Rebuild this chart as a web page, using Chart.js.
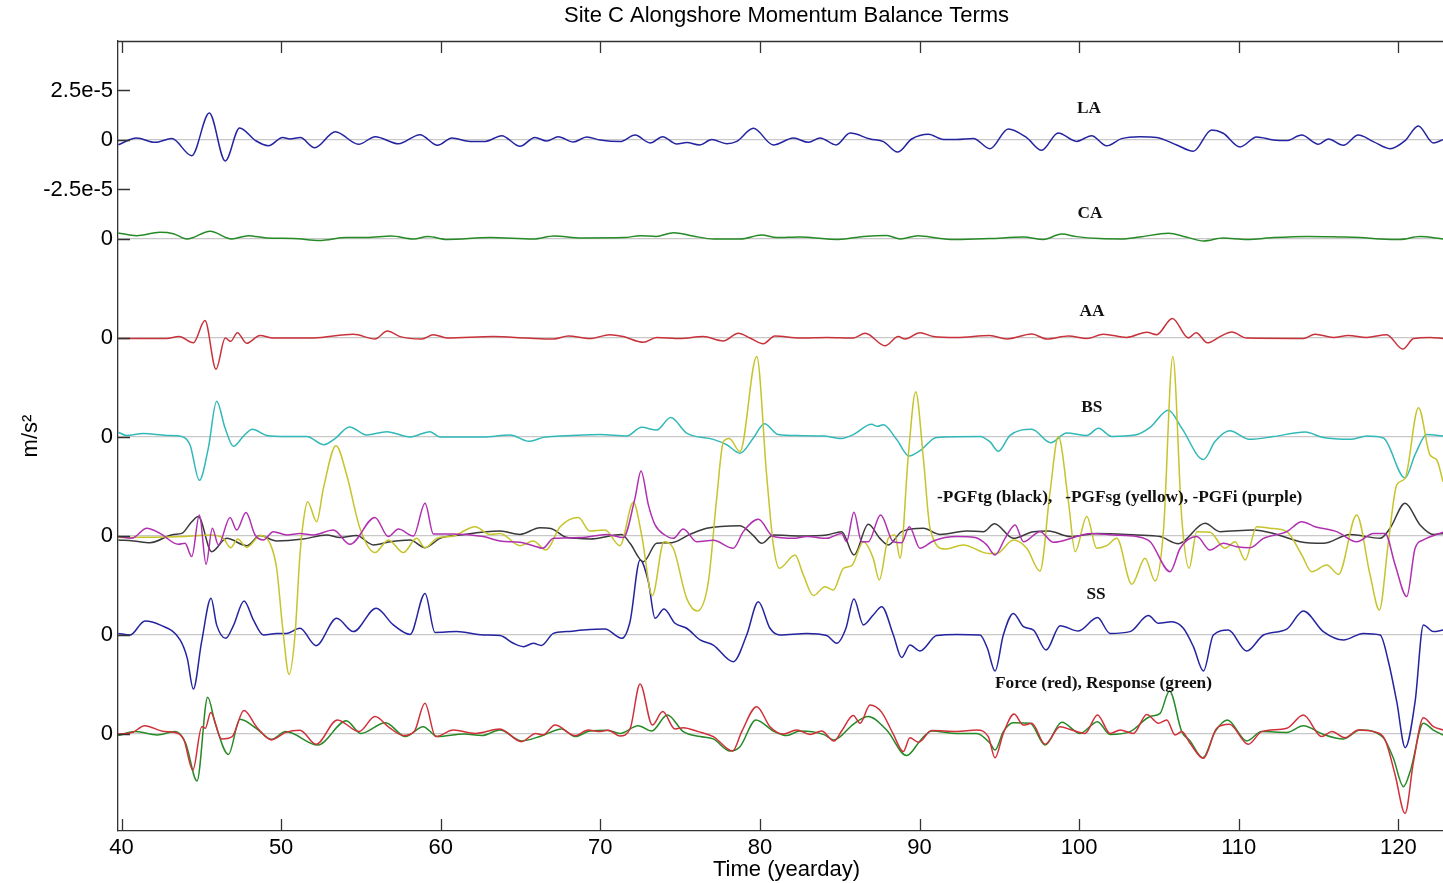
<!DOCTYPE html>
<html>
<head>
<meta charset="utf-8">
<title>Site C Alongshore Momentum Balance Terms</title>
<script src="https://cdn.jsdelivr.net/npm/chart.js@4.4.1/dist/chart.umd.min.js"></script>
<style>
    html, body { margin: 0; padding: 0; background: #fff; }
    #wrap { width: 1443px; height: 883px; overflow: hidden; }
    canvas { display: block; }
</style>
</head>
<body>
<div id="wrap"><canvas id="terms" width="1460" height="883"></canvas></div>
<script>
// values in units of 1e-5 m/s^2, [yearday, value]
const LA = [[39.8,-0.24],[40.95,0.10],[42.1,-0.12],[43.15,0.07],[44.4,-0.79],[45.5,1.36],[46.5,-1.06],[47.4,0.61],[48.4,-0.03],[49.2,-0.29],[50.1,0.13],[50.55,0.05],[51.2,0.12],[52.1,-0.39],[53.4,0.42],[54.85,-0.22],[55.9,0.17],[57.35,-0.19],[58.7,0.27],[59.8,-0.27],[60.7,0.10],[61.84,-0.07],[62.8,-0.07],[63.82,0.22],[64.97,-0.32],[65.9,0.13],[66.64,-0.05],[67.37,0.17],[68.31,-0.10],[69.15,0.15],[69.99,0.0],[71.24,-0.08],[72.18,0.25],[73.12,-0.15],[73.91,0.17],[74.79,-0.20],[75.42,-0.13],[76.21,-0.25],[76.98,0.02],[77.92,-0.19],[78.55,-0.07],[79.59,0.59],[80.84,-0.25],[82.1,0.10],[83.04,-0.12],[83.77,0.10],[84.77,-0.25],[85.65,0.35],[86.9,0.05],[87.74,-0.08],[88.62,-0.61],[89.51,0.05],[90.56,0.29],[91.5,0.03],[92.32,0.03],[93.37,0.08],[94.41,-0.44],[95.56,0.56],[96.71,0.12],[97.65,-0.52],[98.69,0.35],[99.84,-0.07],[100.78,0.22],[101.72,-0.29],[102.66,0.07],[103.81,0.17],[104.86,0.13],[106.11,-0.25],[107.15,-0.57],[108.3,0.51],[109.03,0.34],[110.08,-0.35],[111.12,0.15],[112.17,0.0],[113.0,-0.03],[113.94,0.25],[114.99,-0.22],[115.61,0.05],[116.55,-0.27],[117.49,0.25],[118.43,-0.08],[119.48,-0.44],[120.42,-0.03],[121.25,0.71],[122.19,-0.15],[122.8,0.02]];

const CA = [[39.8,0.30],[40.95,0.17],[42.4,0.34],[43.25,0.27],[44.1,0.0],[45.55,0.39],[46.9,0.0],[47.95,0.17],[49.1,0.05],[50.77,0.03],[52.4,-0.07],[54.1,0.08],[55.36,0.07],[56.9,0.15],[58.3,0.0],[59.2,0.13],[60.4,-0.02],[63.1,0.07],[65.8,0],[67.1,0.15],[68.8,0.05],[71.5,0.07],[72.5,0.17],[73.5,0.13],[74.6,0.32],[75.8,0.15],[77.1,0],[78.8,0],[80.1,0.2],[81.06,0.07],[82.5,0.10],[84.9,-0.02],[86.5,0.13],[87.95,0.18],[88.8,0],[89.9,0.17],[91.3,0.03],[92.3,-0.03],[94.4,0.02],[96.5,0.10],[97.76,-0.02],[98.9,0.25],[99.84,0.12],[101.3,0.02],[102.6,0],[103.8,0.10],[105.6,0.29],[106.7,0.10],[107.8,-0.10],[109.0,0.05],[110.5,-0.03],[112.2,0.07],[114.3,0.13],[116.3,0.10],[117.6,0.07],[118.85,0],[120.1,-0.03],[121.35,0.12],[122.8,0]];

const AA = [[39.8,-0.03],[42.83,-0.02],[43.6,0.08],[44.5,-0.24],[45.23,0.88],[45.92,-1.57],[46.5,0],[46.84,-0.17],[47.26,0.27],[47.84,-0.27],[48.68,0.13],[49.5,0],[52.0,0],[54.53,0.19],[55.88,-0.05],[56.66,0.35],[57.45,0.07],[58.81,-0.05],[59.54,0.17],[60.4,0],[63.3,0.07],[65.39,0],[67.06,-0.05],[68.0,0.10],[69.35,-0.03],[70.6,0.17],[71.44,0.07],[72.7,-0.22],[73.53,0.03],[75.0,-0.03],[76.45,0.07],[77.7,-0.15],[78.65,0.24],[79.38,0],[80.21,-0.29],[80.94,0.10],[82.5,0],[84.2,0.03],[85.85,0],[86.6,0.24],[87.84,-0.39],[88.67,0.07],[89.09,-0.05],[90.03,0.27],[90.86,0.07],[92.33,0.02],[94.4,0.12],[95.46,-0.05],[97.03,0.2],[97.97,-0.05],[99.33,0.10],[100.48,-0.03],[101.52,0.19],[102.98,0.03],[104.24,0.29],[104.86,0.17],[105.84,0.99],[106.85,0],[107.33,0.27],[108.04,-0.24],[108.83,0.07],[109.56,0.30],[110.5,0],[114.05,-0.02],[114.78,0.19],[115.93,0.03],[116.87,0.13],[118.02,0.03],[119.27,0.17],[120.28,-0.56],[120.95,-0.03],[121.99,0.03],[122.8,-0.02]];

const BS = [[39.8,0.24],[40.3,0.08],[41.37,0.17],[42.83,0.08],[43.77,0.03],[44.29,-0.39],[44.88,-2.19],[45.44,-0.56],[45.96,1.80],[46.49,0.45],[47.01,-0.47],[47.63,0.03],[48.2,0.39],[49.1,0.08],[50.35,0.03],[51.6,0.03],[52.69,-0.39],[53.38,-0.08],[54.28,0.51],[55.36,0.10],[56.62,0.27],[58.08,0],[59.33,0.27],[59.96,0],[62.67,0],[64.34,0.10],[65.53,-0.22],[66.43,-0.02],[67.47,0.05],[69.98,0.13],[71.65,0.05],[72.59,0.49],[73.53,0.35],[74.41,0.98],[75.41,0.20],[77.08,-0.12],[77.92,-0.39],[78.75,-0.82],[79.59,-0.05],[80.28,0.67],[81.15,0.12],[82.3,0.07],[83.97,0.05],[85.12,-0.07],[85.85,0.12],[87.0,0.64],[87.36,0.54],[87.73,0.62],[88.57,-0.13],[89.34,-0.96],[90.03,-0.69],[91.07,-0.02],[93.79,0.03],[94.42,-0.25],[94.94,-0.72],[95.67,0.08],[97.03,0.39],[98.22,-0.29],[99.22,0.20],[100.48,0.08],[101.21,0.44],[102.04,0.03],[103.5,0.10],[104.45,0.49],[105.59,1.35],[106.43,0.45],[107.79,-1.14],[108.52,-0.22],[109.42,0.32],[110.71,-0.12],[112.17,0.02],[114.16,0.25],[115.3,-0.03],[116.98,-0.12],[118.02,0.05],[119.06,-0.05],[120.42,-2.07],[121.05,-0.89],[121.78,0.12],[122.8,0.05]];

const PGF_TG = [[39.8,-0.20],[40.74,-0.25],[41.79,-0.34],[43.25,0.08],[43.77,0.13],[44.4,0.72],[44.81,0.98],[45.65,-0.79],[46.59,-0.12],[47.84,-0.49],[48.68,0.02],[49.72,-0.25],[51.39,-0.15],[52.85,0.05],[53.69,-0.08],[54.73,0.02],[55.78,-0.45],[56.82,-0.29],[58.08,-0.20],[59.02,-0.59],[59.96,-0.12],[61.21,0.05],[63.72,0.25],[64.97,0.08],[66.22,0.42],[66.9,0.38],[67.8,-0.05],[68.5,-0.12],[69.35,-0.15],[71.34,0.08],[71.86,-0.37],[72.7,-1.30],[73.53,-0.37],[74.47,-0.34],[75.62,0.08],[76.66,0.39],[78.75,0.52],[79.59,0.02],[80.11,-0.37],[80.84,0.05],[82.51,0],[84.18,0.05],[85.12,0.22],[85.89,-0.96],[86.79,0.59],[87.52,-0.12],[88.04,-0.45],[88.88,0.22],[90.24,0.39],[91.28,0.08],[92.95,0.25],[94.0,0.22],[94.7,0.62],[95.88,-0.12],[97.14,0.22],[98.08,0.25],[99.43,-0.03],[101.1,0.13],[103.61,0.05],[105.07,-0.03],[106.22,-0.39],[107.89,0.64],[108.83,0.22],[110.92,0.30],[112.17,0.13],[113.84,-0.29],[115.3,-0.37],[116.98,0.08],[118.86,-0.12],[119.48,0.39],[120.42,1.65],[121.36,0.56],[122.2,0.08],[122.8,0.13]];

const PGF_SG = [[39.8,-0.08],[43.88,-0.03],[45.55,0.05],[46.38,-0.12],[46.84,-0.59],[47.28,-0.15],[47.84,-0.57],[48.72,0.02],[49.3,-0.37],[49.72,-1.63],[50.1,-4.66],[50.5,-6.99],[50.87,-5.0],[51.18,-0.96],[51.39,0.72],[51.66,1.73],[52.23,0.72],[52.65,2.41],[53.44,4.56],[54.11,3.08],[54.94,0.39],[55.88,-0.84],[56.72,-0.20],[57.66,-0.84],[58.49,-0.12],[59.02,-0.59],[59.75,-0.12],[60.79,0],[62.15,0.47],[63.09,0.08],[63.72,0.13],[64.97,-0.49],[65.8,-0.25],[66.6,-0.71],[67.47,0.45],[68.62,0.93],[69.35,0.25],[70.29,0.30],[71.23,-0.49],[72.07,1.70],[72.59,0.05],[73.26,-3.01],[73.99,-0.29],[74.57,-0.62],[75.41,-3.15],[76.08,-3.79],[76.77,-2.31],[77.29,1.90],[77.71,4.76],[78.08,4.93],[78.75,4.26],[79.8,9.06],[80.42,3.08],[80.84,-0.45],[81.22,-1.63],[82.2,-0.96],[82.72,-1.97],[83.35,-3.01],[84.08,-2.56],[84.6,-2.73],[85.23,-1.63],[85.75,-1.50],[86.48,-0.29],[87.1,-1.13],[87.48,-2.22],[88.04,-0.12],[88.46,0.05],[88.78,-1.13],[89.3,4.09],[89.76,7.29],[90.24,3.92],[90.66,0.39],[91.6,-0.66],[92.74,-0.45],[94.31,-0.88],[94.84,-0.88],[95.88,-0.20],[96.72,-0.62],[97.55,-1.77],[98.18,2.24],[98.7,5.02],[99.33,1.73],[99.75,-0.79],[100.48,0.98],[101.1,-0.62],[101.73,-0.49],[102.36,-0.12],[103.3,-2.44],[104.13,-1.13],[104.76,-2.27],[105.28,0.22],[105.87,9.06],[106.43,0.89],[106.89,-1.63],[107.37,0.22],[108.2,0.19],[109.14,-0.62],[109.77,-0.29],[110.4,-1.21],[111.13,0.47],[111.96,0.39],[113.01,0.22],[113.95,-0.96],[114.57,-1.80],[115.52,-1.46],[116.25,-1.94],[117.39,1.06],[118.23,-1.97],[118.81,-3.74],[119.38,-0.29],[119.9,2.58],[120.42,2.91],[121.26,6.48],[121.99,4.09],[122.41,3.84],[122.8,2.74]];

const PGF_I = [[39.8,-0.03],[40.64,-0.12],[41.58,0.39],[42.41,0.13],[43.56,-0.42],[43.98,-0.37],[44.4,-1.04],[44.88,1.06],[45.3,-1.43],[45.69,0.39],[46.07,-0.45],[46.8,0.94],[47.22,0.30],[47.8,1.18],[48.37,0.05],[48.89,-0.20],[49.51,0.22],[50.35,0.05],[51.18,0.13],[52.02,0.05],[53.27,0.30],[54.32,-0.42],[55.88,0.94],[56.72,-0.03],[57.35,0.35],[58.29,0],[59.02,1.65],[59.54,0.10],[60.79,0.10],[62.67,-0.03],[63.72,-0.25],[64.97,-0.32],[65.8,-0.49],[66.4,-0.62],[67.06,-0.12],[68.73,-0.08],[70.4,0.08],[71.44,-0.08],[72.17,1.90],[72.55,3.28],[73.01,1.57],[73.43,0.56],[74.05,0.05],[74.57,-0.12],[75.2,0.35],[76.04,-0.29],[77.08,-0.22],[78.33,-0.62],[78.96,0.22],[79.9,0.84],[80.84,-0.03],[82.09,-0.12],[82.93,-0.03],[84.18,-0.12],[85.12,0.13],[85.43,-0.29],[85.89,1.20],[86.37,-0.29],[86.79,-0.29],[87.56,1.06],[88.36,-0.29],[88.88,-0.34],[89.36,0.47],[90.03,-0.62],[90.86,-0.25],[92.33,-0.03],[93.48,-0.08],[94.21,-0.45],[94.73,-0.96],[95.36,-0.12],[95.99,0.56],[96.51,-0.29],[97.55,0.22],[98.39,-0.32],[99.85,-0.03],[100.69,0.13],[102.15,0.05],[103.61,-0.03],[104.45,-0.29],[105.7,-1.80],[106.33,-0.62],[107.37,-0.03],[108.2,-0.71],[109.04,-0.37],[109.87,-0.54],[110.71,-0.59],[111.55,-0.12],[113.01,0.22],[113.95,0.72],[114.78,0.47],[116.14,0.22],[117.39,-0.29],[118.44,0.13],[119.17,0.13],[119.8,-1.46],[120.53,-3.06],[121.05,-0.62],[121.57,-0.20],[122.8,0.19]];

const SS = [[39.8,0.08],[40.53,0],[41.47,0.71],[42.41,0.51],[43.67,-0.25],[44.12,-1.18],[44.5,-2.73],[45.02,-0.34],[45.61,1.85],[45.96,0.51],[46.53,-0.17],[47.01,0.47],[47.68,1.72],[48.26,0.76],[48.89,0],[49.72,0.07],[50.35,0.08],[51.18,0.34],[52.19,-0.54],[53.48,0.84],[54.53,0.17],[55.95,1.35],[57.03,0.51],[58.08,0.03],[59.02,2.10],[59.64,0.13],[61.0,0.17],[62.67,0],[63.72,-0.03],[64.55,-0.42],[65.18,-0.59],[65.8,-0.42],[66.3,-0.53],[67.06,0.08],[67.89,0.17],[68.94,0.25],[70.29,0.30],[71.34,-0.17],[71.86,0.67],[72.49,3.79],[73.01,2.69],[73.43,0.84],[73.99,1.31],[74.68,0.59],[75.41,0.34],[76.25,-0.25],[77.08,-0.51],[78.33,-1.35],[79.17,0],[79.9,1.68],[80.63,0.34],[81.26,0],[82.93,0.08],[84.18,-0.03],[84.81,-0.42],[85.39,0.34],[85.89,1.82],[86.48,0.51],[87.1,1.01],[87.63,1.43],[88.36,0],[88.88,-1.14],[89.4,-0.51],[90.03,-0.81],[91.07,-0.03],[92.33,0.03],[93.79,0],[94.25,-0.67],[94.73,-1.82],[95.25,0],[95.88,1.09],[96.51,0.42],[97.14,0.25],[97.93,-0.76],[98.81,0.47],[99.95,0.20],[101.15,0.88],[101.94,0.08],[103.19,0.17],[104.34,0.98],[104.97,0.59],[105.8,0.67],[106.53,0.34],[107.16,-0.59],[107.79,-1.82],[108.41,0],[109.35,0.25],[110.5,-0.81],[111.55,0],[113.01,0.30],[114.05,1.21],[115.3,0.17],[116.56,-0.25],[117.81,0.08],[118.86,0],[119.38,-1.35],[119.9,-3.37],[120.43,-5.69],[121.05,-3.37],[121.57,0.51],[122.2,0.17],[122.8,0.25]];

const FORCE = [[39.78,0],[40.67,0.07],[41.45,0.42],[42.68,0.12],[43.35,0.08],[43.91,-0.30],[44.47,-1.82],[45.03,0.37],[45.25,0.29],[45.59,1.08],[46.26,-0.25],[46.93,-0.13],[47.67,1.18],[48.5,0.32],[49.39,-0.30],[50.29,0.08],[51.18,0.19],[52.19,-0.52],[53.53,0.71],[54.88,0.12],[55.88,0.88],[56.78,0.32],[57.67,-0.08],[58.34,0.12],[59.01,1.55],[59.68,-0.13],[60.8,0.20],[62.15,0.03],[63.71,0.25],[65.06,-0.39],[65.95,0.03],[66.4,-0.05],[67.16,0.45],[68.41,-0.08],[69.25,0.20],[69.87,0.12],[70.5,0.19],[71.23,-0.10],[71.86,0.25],[72.49,2.53],[73.26,0.45],[73.91,1.13],[74.68,0.25],[75.2,0.32],[76.14,0.12],[77.08,-0.13],[78.29,-0.86],[78.86,0.12],[79.8,1.38],[80.63,0.37],[81.47,0],[82.3,0.20],[83.14,-0.02],[83.87,0.15],[84.64,-0.35],[85.12,0.15],[85.85,0.93],[86.27,0.54],[86.9,1.46],[87.63,1.09],[88.36,-0.02],[88.98,-0.89],[89.4,-0.19],[89.93,-0.42],[90.76,0.17],[92.33,0.12],[93.58,0.20],[94.31,-0.13],[94.73,-1.20],[95.25,0.03],[95.92,1.01],[96.51,0.45],[97.03,0.54],[97.87,-0.52],[98.81,0.37],[99.54,0.20],[100.37,0.03],[101.15,0.96],[101.94,0.03],[102.57,0.20],[103.4,0.03],[104.24,0.99],[104.97,0.54],[105.49,0.71],[106.01,-0.05],[106.43,0.12],[106.95,-0.47],[107.79,-1.23],[108.62,0.29],[109.42,0.49],[110.6,-0.52],[111.44,0.12],[113.01,0.29],[114.05,0.96],[115.2,-0.13],[115.83,0.12],[116.66,-0.19],[117.5,0.20],[118.44,0.12],[119.17,-0.30],[119.8,-2.07],[120.42,-4.01],[120.95,-1.40],[121.57,0.82],[122.2,0.37],[122.8,0.20]];

const RESPONSE = [[39.78,-0.08],[40.89,0.12],[42.24,-0.05],[43.35,0.12],[44.02,-0.47],[44.73,-2.37],[45.4,1.85],[45.87,0.54],[46.7,-1.03],[47.42,0.74],[48.5,0.25],[49.39,-0.27],[50.29,0.12],[52.3,-0.56],[54.09,0.67],[54.98,0.03],[56.55,0.57],[57.78,-0.13],[58.9,0.37],[59.79,-0.13],[61.47,0],[62.59,-0.08],[63.71,0.20],[65.06,-0.35],[66.3,-0.10],[67.58,0.25],[68.41,-0.13],[69.35,0.15],[70.4,0.19],[71.23,0.03],[72.38,0.42],[73.22,0.15],[74.2,0.96],[75.2,0.12],[76.25,-0.13],[77.08,-0.25],[78.13,-0.86],[78.75,-0.64],[79.75,0.71],[80.84,0.15],[81.68,-0.08],[82.51,0.15],[83.97,-0.02],[84.64,-0.30],[85.85,0.49],[86.79,0.88],[87.94,0.20],[89.19,-1.09],[90.13,-0.25],[90.76,0.15],[92.33,0.03],[93.58,0.03],[94.42,-0.47],[94.73,-0.81],[95.25,0.12],[95.88,0.57],[96.93,0.54],[97.87,-0.56],[98.91,0.59],[100.06,0.03],[101.15,0.62],[101.94,-0.02],[103.19,0.12],[104.45,0.88],[105.07,1.04],[105.66,2.17],[106.43,0.12],[106.95,-0.35],[107.75,-1.20],[108.52,0.12],[109.29,0.71],[110.5,-0.35],[111.44,0.12],[113.01,0.08],[114.05,0.42],[115.3,-0.02],[116.56,-0.25],[117.6,0.20],[119.06,-0.19],[119.69,-1.23],[120.32,-2.66],[120.74,-1.90],[121.57,0.54],[122.2,0.20],[122.8,-0.05]];

const X_TICKS = [40, 50, 60, 70, 80, 90, 100, 110, 120];
const Y_TICKS = [-30, -25, -20, -15, -10, -5, -2.5, 0, 2.5];
const Y_TICK_LABELS = ['0', '0', '0', '0', '0', '0', '-2.5e-5', '0', '2.5e-5'];

// each group is stacked 5e-5 below the one above it
const STEP = 5;

const NOTES = [
    { text: 'LA', x: 100.62, y: 1.58, align: 'center' },
    { text: 'CA', x: 100.68, y: -3.72, align: 'center' },
    { text: 'AA', x: 100.8, y: -8.67, align: 'center' },
    { text: 'BS', x: 100.8, y: -13.5, align: 'center' },
    { text: '-PGFtg (black),   -PGFsg (yellow), -PGFi (purple)', x: 91.1, y: -18.05, align: 'left' },
    { text: 'SS', x: 101.06, y: -22.96, align: 'center' },
    { text: 'Force (red), Response (green)', x: 94.73, y: -27.45, align: 'left' }
];

function shift(rows, level) {
    return rows.map(r => ({ x: r[0], y: r[1] - level * STEP }));
}

function line(label, rows, level, color) {
    return {
        label: label,
        data: shift(rows, level),
        borderColor: color,
        borderWidth: 1.5,
        pointRadius: 0,
        fill: false,
        cubicInterpolationMode: 'monotone'
    };
}

const insideTicks = {
    id: 'insideTicks',
    afterDraw(chart) {
        const { ctx, chartArea, scales } = chart;
        const len = 12;
        ctx.save();
        ctx.strokeStyle = '#333';
        ctx.lineWidth = 1.3;
        ctx.beginPath();
        // top border of the box
        ctx.moveTo(chartArea.left, chartArea.top + 0.5);
        ctx.lineTo(chartArea.right, chartArea.top + 0.5);
        X_TICKS.forEach(v => {
            const px = Math.round(scales.x.getPixelForValue(v)) + 0.5;
            ctx.moveTo(px, chartArea.bottom);
            ctx.lineTo(px, chartArea.bottom - len);
            ctx.moveTo(px, chartArea.top);
            ctx.lineTo(px, chartArea.top + len);
        });
        Y_TICKS.forEach(v => {
            const py = Math.round(scales.y.getPixelForValue(v)) + 0.5;
            ctx.moveTo(chartArea.left, py);
            ctx.lineTo(chartArea.left + len, py);
        });
        ctx.stroke();
        ctx.restore();
    }
};

const notes = {
    id: 'notes',
    afterDatasetsDraw(chart) {
        const { ctx, scales } = chart;
        ctx.save();
        ctx.font = 'bold 17.3px "Liberation Serif", "Times New Roman", serif';
        ctx.fillStyle = '#111';
        ctx.textBaseline = 'middle';
        NOTES.forEach(n => {
            ctx.textAlign = n.align;
            ctx.fillText(n.text, scales.x.getPixelForValue(n.x), scales.y.getPixelForValue(n.y));
        });
        ctx.restore();
    }
};

Chart.defaults.font.family = '"Liberation Sans", Arial, sans-serif';
Chart.defaults.color = '#000';

const ctx = document.getElementById('terms').getContext('2d');
new Chart(ctx, {
    type: 'line',
    data: {
        datasets: [
            line('LA', LA, 0, '#2424a0'),
            line('CA', CA, 1, '#268a26'),
            line('AA', AA, 2, '#c8323a'),
            line('-PGFi', PGF_I, 4, '#b030b0'),
            line('-PGFsg', PGF_SG, 4, '#c6c42a'),
            line('BS', BS, 3, '#33b8b8'),
            line('-PGFtg', PGF_TG, 4, '#3a3a3a'),
            line('SS', SS, 5, '#2424a0'),
            line('Force', FORCE, 6, '#d0303a'),
            line('Response', RESPONSE, 6, '#268a26')
        ]
    },
    options: {
        responsive: false,
        animation: false,
        layout: { padding: { left: 0, right: 5, top: 0, bottom: 0 } },
        plugins: {
            legend: { display: false },
            tooltip: { enabled: false },
            title: {
                display: true,
                text: 'Site C Alongshore Momentum Balance Terms',
                fullSize: false,
                font: { size: 22, weight: 'normal' },
                color: '#000',
                padding: { top: 3, bottom: 11.6 }
            }
        },
        scales: {
            x: {
                type: 'linear',
                min: 39.78,
                max: 123.55,
                afterBuildTicks: axis => { axis.ticks = X_TICKS.map(v => ({ value: v })); },
                afterFit: axis => { axis.height = 52; },
                grid: { display: false, drawTicks: false },
                border: { display: true, color: '#333', width: 1.3 },
                ticks: { font: { size: 22 }, padding: 4, maxRotation: 0 },
                title: {
                    display: true,
                    text: 'Time (yearday)',
                    font: { size: 22 },
                    padding: { top: 0, bottom: 0 }
                }
            },
            y: {
                type: 'linear',
                min: -34.9,
                max: 5,
                afterBuildTicks: axis => { axis.ticks = Y_TICKS.map(v => ({ value: v })); },
                afterFit: axis => { axis.width = 118; },
                grid: {
                    drawTicks: false,
                    lineWidth: 1.2,
                    color: c => (c.tick && Math.abs(c.tick.value) === 2.5) ? 'rgba(0,0,0,0)' : '#c8c8c8'
                },
                border: { display: true, color: '#333', width: 1.3 },
                ticks: {
                    font: { size: 22 },
                    padding: 5,
                    callback: (value, index) => Y_TICK_LABELS[index]
                },
                title: {
                    display: true,
                    text: 'm/s²',
                    font: { size: 22 },
                    padding: { top: 18, bottom: 0 }
                }
            }
        }
    },
    plugins: [insideTicks, notes]
});
</script>
</body>
</html>
